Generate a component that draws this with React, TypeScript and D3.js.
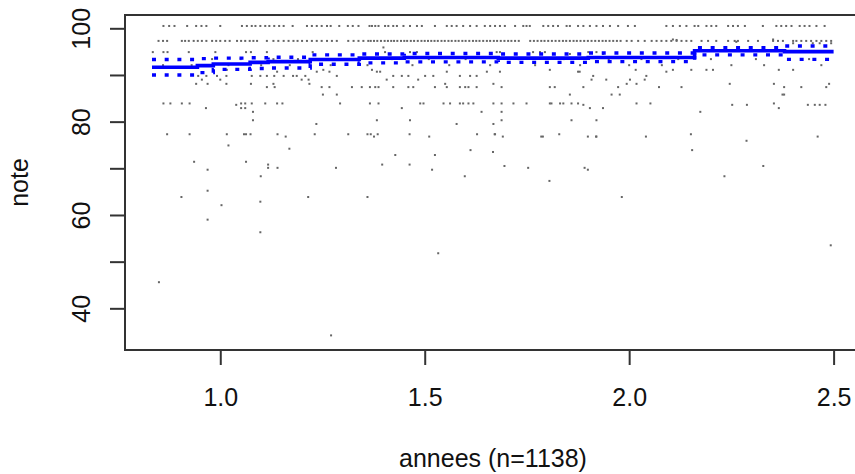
import { useEffect, useRef } from "react";
import * as d3 from "d3";

// annees values per grade row (rows)
const row1005 = [0.861, 0.875, 0.888, 0.919, 0.941, 0.954, 0.966, 1.0, 1.053, 1.065, 1.077, 1.086, 1.098, 1.11, 1.12, 1.132, 1.144, 1.155, 1.177, 1.212, 1.224, 1.236, 1.248, 1.261, 1.27, 1.291, 1.312, 1.324, 1.338, 1.365,
  1.371, 1.379, 1.387, 1.403, 1.411, 1.423, 1.432, 1.448, 1.464, 1.481, 1.493, 1.525, 1.554, 1.566, 1.578, 1.594, 1.611, 1.627, 1.647, 1.66, 1.672, 1.684, 1.696, 1.721, 1.741, 1.749, 1.757, 1.79, 1.802, 1.814, 1.826, 1.847, 1.855, 1.875, 1.888, 1.904, 1.92, 1.936, 1.953, 1.973,
  1.997, 2.014, 2.091, 2.107, 2.124, 2.14, 2.16, 2.169, 2.189, 2.201, 2.213, 2.242, 2.254, 2.266, 2.283, 2.327, 2.36, 2.372, 2.384, 2.397, 2.417, 2.429, 2.441, 2.458, 2.478];

const row973 = [0.849, 0.86, 0.87, 0.906, 0.914, 0.923, 0.935, 0.945, 0.955, 0.966, 0.98, 0.99, 1.0, 1.012, 1.023, 1.041, 1.051, 1.061, 1.072, 1.081, 1.09, 1.114, 1.13, 1.142, 1.155, 1.167, 1.179, 1.189, 1.2, 1.212, 1.224, 1.236, 1.248, 1.261, 1.273, 1.285, 1.313, 1.326, 1.338, 1.35, 1.362,
  1.368, 1.376, 1.384, 1.393, 1.402, 1.41, 1.418, 1.425, 1.433, 1.442, 1.45, 1.457, 1.466, 1.474, 1.483, 1.492, 1.5, 1.508, 1.516, 1.524, 1.532, 1.541, 1.549, 1.558, 1.566, 1.575, 1.583, 1.592, 1.6, 1.609, 1.618, 1.626, 1.634, 1.643, 1.652, 1.66, 1.669, 1.677, 1.686, 1.695, 1.704, 1.712, 1.721, 1.73,
  1.758, 1.767, 1.776, 1.785, 1.793, 1.802, 1.811, 1.82, 1.829, 1.838, 1.846, 1.855, 1.864, 1.872, 1.881, 1.89, 1.899, 1.908, 1.917, 1.926, 1.935, 1.943, 1.952, 1.961, 1.97, 1.979,
  1.994, 2.006, 2.022, 2.038, 2.055, 2.067, 2.079, 2.091, 2.103, 2.116, 2.128, 2.14, 2.152, 2.177, 2.193, 2.213, 2.242, 2.258, 2.266, 2.291, 2.315, 2.352, 2.364, 2.376, 2.401, 2.409, 2.421, 2.433, 2.445, 2.458, 2.47, 2.482, 2.494];

const row949 = [0.835, 0.861, 0.871, 0.923, 0.988, 1.063, 1.075, 1.114, 1.226, 1.403, 1.464, 1.481, 1.676, 1.684, 1.765, 1.782, 1.794, 1.9, 1.92];

const row934 = [0.9, 0.98, 1.05, 1.13, 1.19, 1.3, 1.42, 1.51, 1.6, 1.73, 1.84, 1.95, 2.03, 2.12, 2.2, 2.31, 2.44];
const row921 = [0.86, 0.93, 1.02, 1.1, 1.17, 1.27, 1.36, 1.47, 1.56, 1.66, 1.77, 1.88, 2.0, 2.08, 2.25, 2.33, 2.47];

const row911 = [1.016, 1.252, 1.371, 1.806, 2.016, 2.107, 2.152, 2.189, 2.205, 2.366, 2.401];
const row907 = [1.236, 1.267, 1.139, 1.383, 1.391, 1.554, 1.652, 1.684, 1.875, 1.879, 2.091];
const row898 = [0.946, 0.966, 0.992, 1.015, 1.077, 1.098, 1.114, 1.132, 1.155, 1.178, 1.187, 1.208, 1.285, 1.423, 1.444, 1.46, 1.501, 1.521, 1.586, 1.611, 1.627, 1.912, 2.042];
const row890 = [0.955, 1.0, 1.199, 1.216, 1.407, 1.484, 1.908, 1.944, 2.002, 2.038];
const row881 = [0.941, 0.969, 1.015, 1.075, 1.13, 1.218, 1.55, 1.668, 1.994, 2.018, 2.246, 2.354, 2.489];
const row874 = [1.114, 1.133, 1.248, 1.267, 1.322, 1.346, 1.366, 1.379, 1.387, 1.423, 1.46, 1.472, 1.525, 1.554, 1.586, 1.599, 1.607, 1.627, 1.688, 1.806, 1.818, 1.888, 1.973, 2.073, 2.128, 2.379, 2.421, 2.482];
const row858 = [1.251, 1.285, 1.855, 1.957, 1.977, 2.375, 2.379];
const row839 = [0.861, 0.878, 0.906, 0.925, 1.051, 1.061, 1.077, 1.11, 1.139, 1.152, 1.293, 1.366, 1.387, 1.489, 1.497, 1.546, 1.562, 1.586, 1.594, 1.607, 1.619, 1.668, 1.688, 1.717, 1.749, 1.806, 1.81, 1.831, 1.839, 1.859, 1.875, 2.018, 2.052, 2.354];
const row836 = [1.039, 1.888, 2.252, 2.288, 2.437, 2.454, 2.466, 2.48];
const row829 = [0.965, 1.051, 1.061, 1.444, 1.904, 1.936, 2.366];
const row821 = [1.08, 1.639, 1.688, 2.174];
const row803 = [1.08, 1.383, 1.464, 1.688, 1.859, 1.92];
const row795 = [1.235, 1.578, 1.668];
const row773 = [0.87, 0.925, 1.016, 1.058, 1.063, 1.074, 1.14, 1.231, 1.313, 1.36, 1.368, 1.385, 1.463, 1.628, 1.671, 1.672, 1.829, 2.151];
const row768 = [1.16, 1.376, 1.511, 1.691, 1.785, 1.789, 1.899, 1.919, 1.92, 2.041, 2.461];
const row759 = [2.287];

// isolated grades [annees, note]
const lowPoints = [
  [1.02, 74.9], [1.169, 74.2], [1.612, 73.9], [1.667, 73.5], [2.154, 73.9], [1.428, 72.85], [1.525, 72.85],
  [0.936, 71.4], [1.063, 71.4], [1.117, 70.8], [1.396, 70.8], [1.463, 70.8], [1.695, 70.5], [2.328, 70.5],
  [1.117, 70.1], [1.14, 70.1], [1.283, 70.1], [1.753, 70.1], [1.891, 70.1], [1.899, 69.7], [0.969, 69.7], [1.518, 69.7],
  [1.099, 68.3], [1.598, 68.3], [2.233, 68.3], [1.805, 67.3], [0.969, 65.2], [0.905, 63.85], [1.215, 63.85],
  [1.36, 63.85], [1.982, 63.85], [1.098, 62.85], [1.003, 62.1], [0.969, 59.0], [1.098, 56.3], [2.493, 53.5],
  [1.533, 51.8], [0.85, 45.6], [1.271, 34.2],
  [1.399, 95.9], [1.855, 94.5], [1.936, 94.5], [2.107, 97.6], [2.116, 97.5], [2.262, 97.1], [2.352, 97.6],
  [2.401, 96.8], [2.449, 96.8], [2.466, 96.8], [2.494, 96.8],
];

const gradeRows = [
  [100.5, row1005], [97.3, row973], [94.9, row949], [93.4, row934], [92.1, row921], [91.1, row911], [90.7, row907],
  [89.8, row898], [89.0, row890], [88.1, row881], [87.4, row874], [85.8, row858], [83.9, row839], [83.6, row836],
  [82.9, row829], [82.1, row821], [80.3, row803], [79.5, row795], [77.3, row773], [76.8, row768], [75.9, row759],
];

// fitted step curve with its band
const fitX = [0.833, 0.944, 0.983, 1.073, 1.117, 1.22, 1.34, 1.45, 1.68, 1.9, 2.16, 2.38, 2.5];
const fitMid = [91.65, 92.0, 92.35, 92.7, 92.85, 93.3, 93.6, 93.75, 93.6, 93.75, 95.2, 95.0, 95.0];
const fitHigh = [93.3, 93.5, 93.6, 93.7, 93.8, 94.3, 94.5, 94.6, 94.5, 94.7, 95.85, 96.2, 96.2];
const fitLow = [90.0, 90.5, 91.2, 91.4, 91.5, 92.3, 92.6, 92.8, 92.7, 92.85, 94.3, 93.35, 93.35];

const xTicks = [1.0, 1.5, 2.0, 2.5];
const yTicks = [40, 50, 60, 70, 80, 90, 100];
const yLabelled = [40, 60, 80, 100]; // R drops the labels that would overlap

const FONT = "'Liberation Sans', Arial, sans-serif";

const App = () => {
  const ref = useRef(null);

  useEffect(() => {
    document.body.style.margin = "0";
    const svg = d3.select(ref.current);
    svg.selectAll("*").remove();

    const left = 125, top = 15, right = 861, bottom = 350;

    const x = d3.scaleLinear().domain([0.767, 2.567]).range([left, right]);
    const y = d3.scaleLinear().domain([31.07, 102.85]).range([bottom, top]);

    // points
    const pts = [];
    gradeRows.forEach(([note, xs]) => xs.forEach(a => pts.push([a, note])));
    lowPoints.forEach(p => pts.push(p));

    svg.append("g")
      .selectAll("rect")
      .data(pts)
      .enter()
      .append("rect")
      .attr("x", d => x(d[0]) - 1)
      .attr("y", d => y(d[1]) - 1)
      .attr("width", 2)
      .attr("height", 2)
      .attr("fill", "#666");

    // fitted lines
    const fit = fitX.map((a, i) => ({ a, mid: fitMid[i], hi: fitHigh[i], lo: fitLow[i] }));
    const mk = key => d3.line().x(d => x(d.a)).y(d => y(d[key])).curve(d3.curveStepAfter);

    svg.append("path")
      .datum(fit)
      .attr("d", mk("mid"))
      .attr("fill", "none")
      .attr("stroke", "#0000ff")
      .attr("stroke-width", 3.6);

    ["hi", "lo"].forEach(k => {
      svg.append("path")
        .datum(fit)
        .attr("d", mk(k))
        .attr("fill", "none")
        .attr("stroke", "#0000ff")
        .attr("stroke-width", 3.4)
        .attr("stroke-dasharray", "4,8.7");
    });

    // box
    svg.append("rect")
      .attr("x", left)
      .attr("y", top)
      .attr("width", right - left)
      .attr("height", bottom - top)
      .attr("fill", "none")
      .attr("stroke", "#333")
      .attr("stroke-width", 2);

    // x axis
    const gx = svg.append("g")
      .attr("transform", `translate(0,${bottom})`)
      .call(d3.axisBottom(x).tickValues(xTicks).tickSize(15).tickFormat(d3.format(".1f")));
    gx.select(".domain").remove();
    gx.selectAll("line").attr("stroke", "#333").attr("stroke-width", 2);
    gx.selectAll("text")
      .attr("y", 56)
      .attr("dy", null)
      .attr("fill", "#111")
      .style("font-family", FONT)
      .style("font-size", "25px");

    // y axis
    const gy = svg.append("g")
      .attr("transform", `translate(${left},0)`)
      .call(d3.axisLeft(y).tickValues(yTicks).tickSize(15)
        .tickFormat(d => (yLabelled.includes(d) ? d3.format("d")(d) : "")));
    gy.select(".domain").remove();
    gy.selectAll("line").attr("stroke", "#333").attr("stroke-width", 2);
    gy.selectAll("text")
      .attr("x", null)
      .attr("dy", null)
      .attr("transform", "translate(-35,0) rotate(-90)")
      .attr("text-anchor", "middle")
      .attr("fill", "#111")
      .style("font-family", FONT)
      .style("font-size", "25px");

    // axis titles
    svg.append("text")
      .attr("x", (left + right) / 2)
      .attr("y", 467)
      .attr("text-anchor", "middle")
      .attr("fill", "#111")
      .style("font-family", FONT)
      .style("font-size", "25px")
      .text("annees (n=1138)");

    svg.append("text")
      .attr("transform", `translate(28,${(top + bottom) / 2}) rotate(-90)`)
      .attr("text-anchor", "middle")
      .attr("fill", "#111")
      .style("font-family", FONT)
      .style("font-size", "25px")
      .text("note");
  }, []);

  return <svg ref={ref} width={855} height={474} style={{ display: "block" }} />;
};

export default App;
